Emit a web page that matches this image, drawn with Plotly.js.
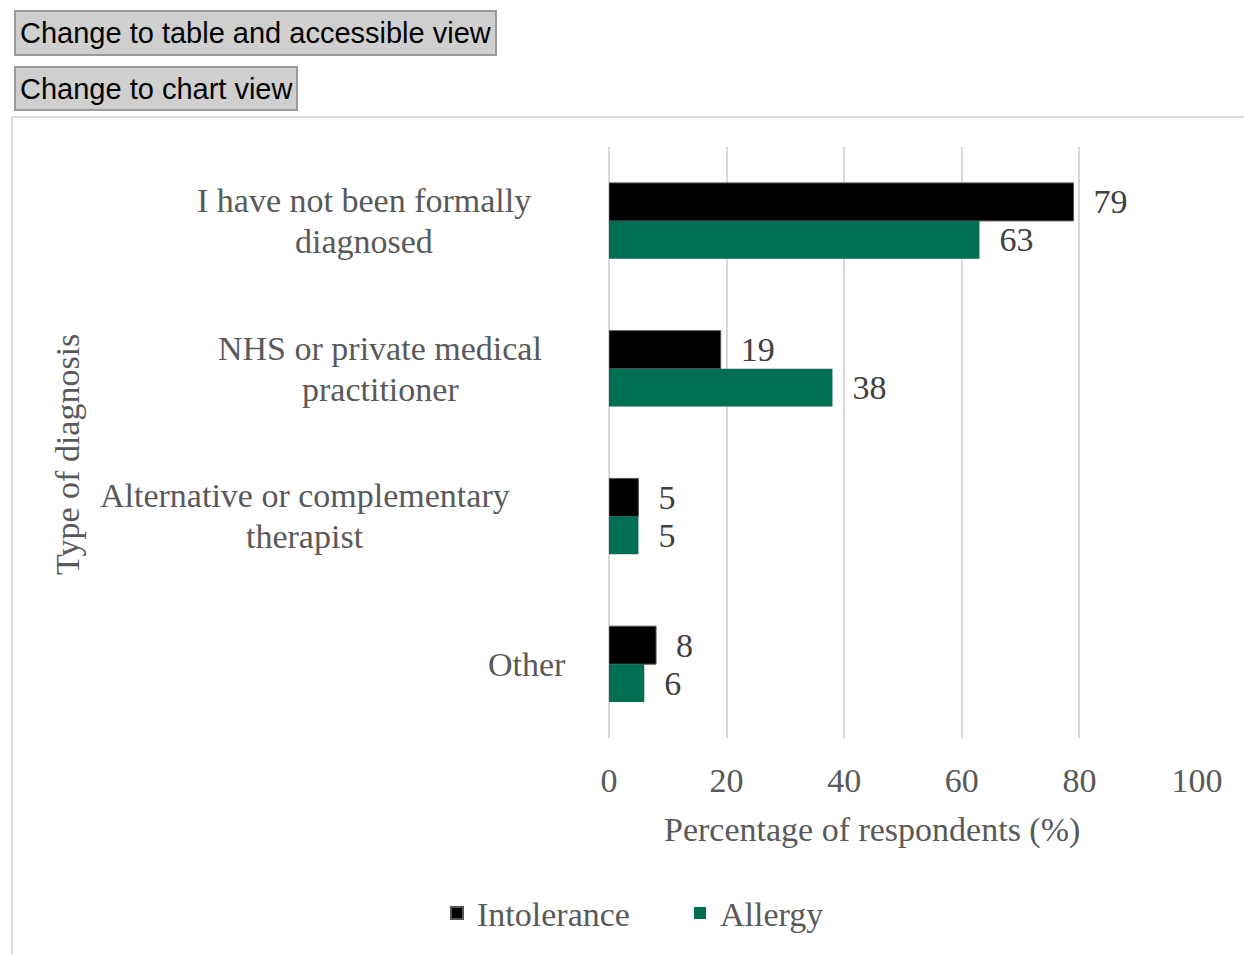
<!DOCTYPE html>
<html>
<head>
<meta charset="utf-8">
<script src="https://cdn.plot.ly/plotly-3.0.1.min.js"></script>
<style>
  html, body { margin: 0; padding: 0; background: #fff; width: 1244px; height: 954px; overflow: hidden; }
  .btn { position: absolute; left: 14px; background: #cfcfcf; border: 2px solid #9a9a9a;
         font-family: "Liberation Sans", Arial, sans-serif; font-size: 29px; color: #000;
         padding: 0 4px; height: 46px; box-sizing: border-box; line-height: 42px; }
  #b1 { top: 10px; }
  #b2 { top: 66px; height: 45px; }
  #frame { position: absolute; left: 11px; top: 116px; width: 1240px; height: 845px;
           border: 2px solid #dcdcdc; box-sizing: border-box; }
  #chart { position: absolute; left: 12px; top: 117px; width: 1232px; height: 837px; }
</style>
</head>
<body>
<button class="btn" id="b1">Change to table and accessible view</button>
<button class="btn" id="b2">Change to chart view</button>
<div id="frame"></div>
<div id="chart"></div>
<script>
// ---- data ----
const categories = [
  "I have not been formally diagnosed",
  "NHS or private medical practitioner",
  "Alternative or complementary therapist",
  "Other"
];
const categoryLabelLines = [
  ["I have not been formally", "diagnosed"],
  ["NHS or private medical", "practitioner"],
  ["Alternative or complementary", "therapist"],
  ["Other"]
];
const intolerance = [79, 19, 5, 8];
const allergy = [63, 38, 5, 6];
const seriesNames = ["Intolerance", "Allergy"];
const xTicks = [0, 20, 40, 60, 80, 100];

// ---- style ----
const FONT = '"Liberation Serif", "Times New Roman", serif';
const FS = 34;
const LINE_H = 41;
const margin = {l: 597, r: 47, t: 30, b: 214};
const plotW = 1232 - margin.l - margin.r;
const labelCentersPx = [-245, -229, -304, -82]; // offset of label centers from plot left, px

const traces = [
  {
    type: 'bar', orientation: 'h', name: seriesNames[0],
    y: categories, x: intolerance,
    marker: {color: '#000000', line: {color: '#555', width: 1}},
    texttemplate: '  %{x}', textposition: 'outside',
    textfont: {family: FONT, size: FS, color: '#404040'},
    cliponaxis: false, hoverinfo: 'x+y'
  },
  {
    type: 'bar', orientation: 'h', name: seriesNames[1],
    y: categories, x: allergy,
    marker: {color: '#006e51'},
    texttemplate: '  %{x}', textposition: 'outside',
    textfont: {family: FONT, size: FS, color: '#404040'},
    cliponaxis: false, hoverinfo: 'x+y'
  }
];

const annotations = [];
categories.forEach((c, i) => {
  const lines = categoryLabelLines[i];
  lines.forEach((ln, j) => {
    annotations.push({
      xref: 'paper', yref: 'y', x: labelCentersPx[i] / plotW, y: c,
      yshift: -(j - (lines.length - 1) / 2) * LINE_H,
      text: ln, showarrow: false, xanchor: 'center', yanchor: 'middle',
      align: 'center', font: {family: FONT, size: FS, color: '#595959'}
    });
  });
});
annotations.push({
  xref: 'paper', yref: 'paper', x: (68 - 609) / plotW, y: 0.479,
  text: 'Type of diagnosis', textangle: -90, showarrow: false,
  xanchor: 'center', yanchor: 'middle', font: {family: FONT, size: FS, color: '#595959'}
});
annotations.push({
  xref: 'paper', yref: 'paper', x: (872 - 609) / plotW, y: 1 - (832 - 147) / 593,
  text: 'Percentage of respondents (%)', showarrow: false,
  xanchor: 'center', yanchor: 'middle', font: {family: FONT, size: FS, color: '#595959'}
});

const layout = {
  width: 1232, height: 837, margin: margin,
  paper_bgcolor: 'rgba(0,0,0,0)', plot_bgcolor: 'rgba(0,0,0,0)',
  barmode: 'group', bargap: 0.486, bargroupgap: 0,
  font: {family: FONT, size: FS, color: '#595959'},
  xaxis: {
    range: [0, 100], tickvals: xTicks, ticktext: xTicks.map(String),
    showgrid: true, gridcolor: '#d9d9d9', gridwidth: 2,
    zeroline: true, zerolinecolor: '#d9d9d9', zerolinewidth: 2,
    showline: false, ticks: '', ticklabelstandoff: 19,
    tickfont: {family: FONT, size: FS, color: '#595959'}, fixedrange: true
  },
  yaxis: {
    type: 'category', autorange: 'reversed', showticklabels: false,
    showgrid: false, zeroline: false, showline: false, ticks: '', fixedrange: true
  },
  showlegend: true,
  legend: {
    orientation: 'h', x: (437 - 609) / plotW, xanchor: 'left',
    y: 1 - (916 - 147) / 593, yanchor: 'middle', entrywidth: 198, entrywidthmode: 'pixels',
    font: {family: FONT, size: FS, color: '#595959'}, itemsizing: 'constant', traceorder: 'normal'
  },
  annotations: annotations
};

Plotly.newPlot('chart', traces, layout, {displayModeBar: false, staticPlot: true});
</script>
</body>
</html>
